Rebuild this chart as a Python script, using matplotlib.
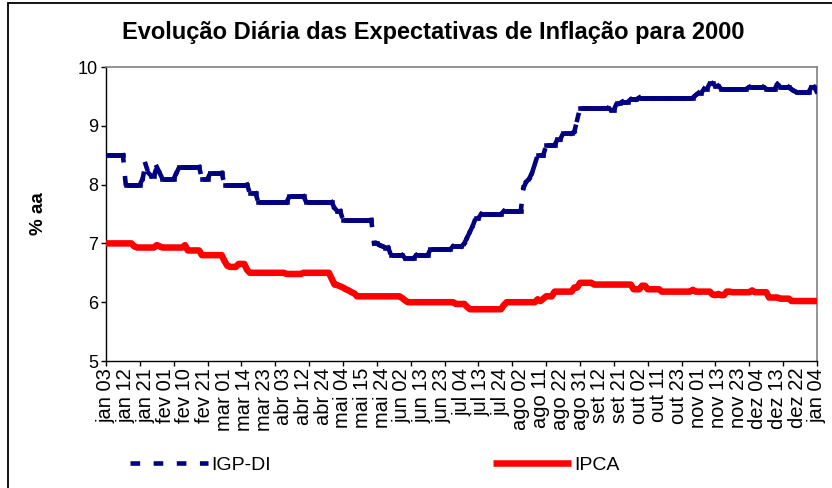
import numpy as np
import matplotlib
matplotlib.use("Agg")
import matplotlib.pyplot as plt
from matplotlib.collections import LineCollection
from matplotlib.lines import Line2D
from matplotlib.patches import Rectangle

plt.rcParams['font.family'] = ['Liberation Sans', 'DejaVu Sans']

# ---- data (one value per business day, 03 jan 2000 .. 04 jan 2001) ----
igp_di = [
    8.5, 8.5, 8.5, 8.5, 8.5, 8.5, 8.5,
    8.0, 8.0, 8.0, 8.0, 8.0, 8.0, 8.1,
    8.35, 8.2, 8.15, 8.15, 8.3, 8.2, 8.1,
    8.1, 8.1, 8.1, 8.1, 8.2, 8.3, 8.3,
    8.3, 8.3, 8.3, 8.3, 8.3, 8.3, 8.1,
    8.1, 8.1, 8.2, 8.2, 8.2, 8.2, 8.2,
    8.0, 8.0, 8.0, 8.0, 8.0, 8.0, 8.0,
    8.0, 8.0, 7.85, 7.85, 7.85, 7.7, 7.7,
    7.7, 7.7, 7.7, 7.7, 7.7, 7.7, 7.7,
    7.7, 7.7, 7.8, 7.8, 7.8, 7.8, 7.8,
    7.8, 7.7, 7.7, 7.7, 7.7, 7.7, 7.7,
    7.7, 7.7, 7.7, 7.7, 7.6, 7.55, 7.55,
    7.4, 7.4, 7.4, 7.4, 7.4, 7.4, 7.4,
    7.4, 7.4, 7.4, 7.4, 7.0, 7.0, 6.97,
    6.95, 6.93, 6.93, 6.8, 6.8, 6.8, 6.8,
    6.8, 6.75, 6.75, 6.75, 6.75, 6.8, 6.8,
    6.8, 6.8, 6.8, 6.9, 6.9, 6.9, 6.9,
    6.9, 6.9, 6.9, 6.9, 6.95, 6.95, 6.95,
    6.95, 7.0, 7.1, 7.2, 7.3, 7.43, 7.43,
    7.5, 7.5, 7.5, 7.5, 7.5, 7.5, 7.5,
    7.5, 7.55, 7.55, 7.55, 7.55, 7.55, 7.55,
    7.55, 7.95, 8.05, 8.1, 8.2, 8.35, 8.5,
    8.5, 8.5, 8.67, 8.67, 8.67, 8.67, 8.77,
    8.77, 8.87, 8.87, 8.87, 8.87, 8.9, 9.1,
    9.3, 9.3, 9.3, 9.3, 9.3, 9.3, 9.3,
    9.3, 9.3, 9.3, 9.3, 9.27, 9.27, 9.38,
    9.38, 9.41, 9.41, 9.41, 9.45, 9.45, 9.45,
    9.48, 9.48, 9.48, 9.48, 9.48, 9.48, 9.48,
    9.48, 9.48, 9.48, 9.48, 9.48, 9.48, 9.48,
    9.48, 9.48, 9.48, 9.48, 9.48, 9.48, 9.52,
    9.56, 9.56, 9.63, 9.63, 9.72, 9.72, 9.68,
    9.68, 9.63, 9.63, 9.63, 9.63, 9.63, 9.63,
    9.63, 9.63, 9.63, 9.63, 9.66, 9.66, 9.66,
    9.66, 9.66, 9.66, 9.63, 9.63, 9.63, 9.63,
    9.71, 9.66, 9.66, 9.66, 9.66, 9.62, 9.59,
    9.57, 9.57, 9.57, 9.57, 9.57, 9.66, 9.66,
    9.57,
]

ipca = [
    7.0, 7.0, 7.0, 7.0, 7.0, 7.0, 7.0,
    7.0, 7.0, 7.0, 6.95, 6.93, 6.93, 6.93,
    6.93, 6.93, 6.93, 6.93, 6.97, 6.95, 6.93,
    6.93, 6.93, 6.93, 6.93, 6.93, 6.93, 6.93,
    6.97, 6.88, 6.88, 6.88, 6.88, 6.88, 6.8,
    6.8, 6.8, 6.8, 6.8, 6.8, 6.8, 6.8,
    6.7, 6.62, 6.6, 6.6, 6.6, 6.65, 6.65,
    6.65, 6.55, 6.5, 6.5, 6.5, 6.5, 6.5,
    6.5, 6.5, 6.5, 6.5, 6.5, 6.5, 6.5,
    6.5, 6.48, 6.48, 6.48, 6.48, 6.48, 6.48,
    6.5, 6.5, 6.5, 6.5, 6.5, 6.5, 6.5,
    6.5, 6.5, 6.5, 6.4, 6.3, 6.29, 6.27,
    6.25, 6.22, 6.2, 6.17, 6.15, 6.1, 6.1,
    6.1, 6.1, 6.1, 6.1, 6.1, 6.1, 6.1,
    6.1, 6.1, 6.1, 6.1, 6.1, 6.1, 6.1,
    6.07, 6.03, 6.0, 6.0, 6.0, 6.0, 6.0,
    6.0, 6.0, 6.0, 6.0, 6.0, 6.0, 6.0,
    6.0, 6.0, 6.0, 6.0, 6.0, 5.97, 5.97,
    5.97, 5.97, 5.92, 5.88, 5.88, 5.88, 5.88,
    5.88, 5.88, 5.88, 5.88, 5.88, 5.88, 5.88,
    5.88, 5.95, 6.0, 6.0, 6.0, 6.0, 6.0,
    6.0, 6.0, 6.0, 6.0, 6.0, 6.0, 6.05,
    6.02, 6.06, 6.1, 6.1, 6.1, 6.18, 6.18,
    6.18, 6.18, 6.18, 6.18, 6.18, 6.25, 6.25,
    6.33, 6.33, 6.33, 6.33, 6.33, 6.3, 6.3,
    6.3, 6.3, 6.3, 6.3, 6.3, 6.3, 6.3,
    6.3, 6.3, 6.3, 6.3, 6.3, 6.22, 6.22,
    6.22, 6.28, 6.28, 6.22, 6.22, 6.22, 6.22,
    6.22, 6.18, 6.18, 6.18, 6.18, 6.18, 6.18,
    6.18, 6.18, 6.18, 6.18, 6.18, 6.21, 6.18,
    6.18, 6.18, 6.18, 6.18, 6.18, 6.13, 6.12,
    6.14, 6.12, 6.12, 6.18, 6.18, 6.17, 6.17,
    6.17, 6.17, 6.17, 6.17, 6.17, 6.2, 6.17,
    6.17, 6.17, 6.17, 6.17, 6.08, 6.08, 6.08,
    6.08, 6.06, 6.06, 6.06, 6.06, 6.02, 6.02,
    6.02, 6.02, 6.02, 6.02, 6.02, 6.02, 6.02,
    6.02,
]

tick_labels = [
    "jan 03", "jan 12", "jan 21", "fev 01", "fev 10", "fev 21", "mar 01",
    "mar 14", "mar 23", "abr 03", "abr 12", "abr 24", "mai 04", "mai 15",
    "mai 24", "jun 02", "jun 13", "jun 23", "jul 04", "jul 13", "jul 24",
    "ago 02", "ago 11", "ago 22", "ago 31", "set 12", "set 21", "out 02",
    "out 11", "out 23", "nov 01", "nov 13", "nov 23", "dez 04", "dez 13",
    "dez 22", "jan 04",
]
label_step = 7
tick_step = 12

title = "Evolução Diária das Expectativas de Inflação para 2000"
ylabel = "% aa"
series_names = ["IGP-DI", "IPCA"]

# ---- figure ----
W, H = 832, 488
fig = plt.figure(figsize=(W / 100, H / 100), dpi=100)
ax = fig.add_axes([106 / W, 1 - 361 / H, (817 - 106) / W, (361 - 67) / H])

n = len(igp_di)
x = np.arange(n)

blue = "#000080"
red = "#FF0000"
blue_lw = 3.3
red_lw = 4.7
legend_dash = (0, (2.1, 2.95))
# projecting caps add half a line width at both ends of each dash
line_dash = (0, (1.1, 3.95))

# IGP-DI: Excel dashed line (dash pattern restarts on every segment)
pts = np.column_stack([x, np.asarray(igp_di, float)])
segs = np.stack([pts[:-1], pts[1:]], axis=1)
lc = LineCollection(segs, colors=blue, linewidths=blue_lw,
                    linestyles=[line_dash], capstyle="projecting", zorder=3)
ax.add_collection(lc)

# IPCA: solid thick red
ax.plot(x, ipca, color=red, lw=red_lw, solid_joinstyle="round",
        solid_capstyle="butt", zorder=3)

ax.set_xlim(0, n - 1)
ax.set_ylim(5, 10)

# y axis
ax.set_yticks(np.arange(5, 11, 1))
ax.tick_params(axis="y", direction="out", length=3.8, width=1, pad=2,
               labelsize=13, colors="black")

# x axis: tick marks every 12 days, labels every 7 days
ax.xaxis.remove_overlapping_locs = False
ax.set_xticks(np.arange(0, n, tick_step))
ax.set_xticklabels([])
ax.set_xticks(np.arange(0, n, label_step), minor=True)
ax.set_xticklabels(tick_labels, minor=True, rotation=90, fontsize=14.5,
                   va="top", ha="center")
ax.tick_params(axis="x", which="major", direction="out", length=3.8, width=1)
ax.tick_params(axis="x", which="minor", length=0, pad=5)

for s in ["left", "bottom"]:
    ax.spines[s].set_color("black")
    ax.spines[s].set_linewidth(1.0)
for s in ["top", "right"]:
    ax.spines[s].set_color("#808080")
    ax.spines[s].set_linewidth(1.2)

ax.set_ylabel(ylabel, fontsize=13.5, fontweight="bold")
ax.yaxis.set_label_coords((47 - 106) / (817 - 106), 0.5)

fig.text(433.5 / W, 1 - 32 / H, title, ha="center", va="center",
         fontsize=17, fontweight="bold")

# legend
handles = [
    Line2D([], [], color=blue, lw=blue_lw, linestyle=legend_dash,
           dash_capstyle="butt"),
    Line2D([], [], color=red, lw=red_lw, solid_capstyle="butt"),
]
fig.legend(handles, series_names, loc="center left",
           bbox_to_anchor=(130 / W, 1 - 465 / H), ncol=2, frameon=False,
           fontsize=14, handlelength=4.0, handletextpad=0.2,
           columnspacing=11.4, borderpad=0, borderaxespad=0)

# outer chart border (left and top visible)
fig.add_artist(Rectangle((8 / W, -0.1), 1.2, 1.1 - 3 / H, fill=False,
                         edgecolor="black", lw=1.3,
                         transform=fig.transFigure))

fig.savefig("out.png", dpi=100)
